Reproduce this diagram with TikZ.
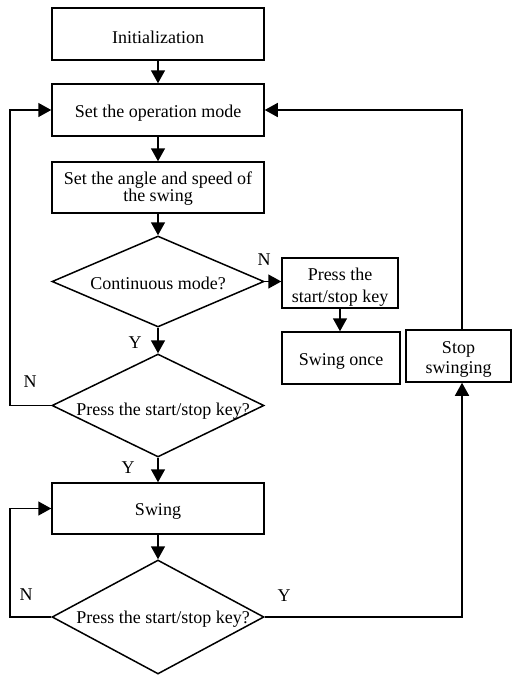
\documentclass[tikz,border=0pt]{standalone}
\usepackage{fontspec}
\setmainfont{Liberation Serif}
\usetikzlibrary{arrows.meta,shapes.geometric}
\newcommand{\lowtxt}[2]{\smash{\raisebox{-#1}{#2}}}
\newcommand{\twolines}[4]{\smash{\raisebox{#1}{\fontsize{18}{#2}\selectfont\begin{tabular}[t]{@{}c@{}}#3\\#4\end{tabular}}}}
\begin{document}
\begin{tikzpicture}[x=1pt,y=-1pt,
  line width=1.5pt,
  >={Triangle[length=13pt,width=14pt]},
  txt/.style={font=\fontsize{18}{17}\selectfont},
  box/.style={draw,rectangle,inner sep=0pt,align=center,txt},
  dia/.style={draw,diamond,inner sep=0pt,minimum width=212pt,txt},
  lab/.style={txt,inner sep=0pt}]
\useasboundingbox (0,0) rectangle (512,675);
\node[box,minimum width=212pt,minimum height=52pt] (init) at (158,34) {\lowtxt{9.5pt}{Initialization}};
\node[box,minimum width=212pt,minimum height=52pt] (mode) at (158,110) {\lowtxt{7pt}{Set the operation mode}};
\node[box,minimum width=212pt,minimum height=51pt] (angle) at (158,187.5) {\twolines{3.5pt}{17}{Set the angle and speed of}{the swing}};
\node[dia,minimum height=91pt] (d1) at (158,281.5) {\makebox[0pt][c]{\lowtxt{7.5pt}{Continuous mode?}}};
\node[box,minimum width=116pt,minimum height=50pt] (press) at (340,283) {\twolines{2.5pt}{21.5}{Press the}{start/stop key}};
\node[box,minimum width=118pt,minimum height=52pt] (once) at (341,358) {\lowtxt{7pt}{Swing once}};
\node[box,minimum width=105pt,minimum height=52pt] (stop) at (458.5,356) {\twolines{3pt}{20}{Stop}{swinging}};
\node[dia,minimum height=103pt] (d2) at (158,405.5) {\makebox[0pt][c]{\hspace{10pt}\lowtxt{9.5pt}{Press the start/stop key?}}};
\node[box,minimum width=212pt,minimum height=51pt] (swing) at (158,508.5) {\lowtxt{7pt}{Swing}};
\node[dia,minimum height=114pt] (d3) at (158,617) {\makebox[0pt][c]{\hspace{10pt}\lowtxt{6pt}{Press the start/stop key?}}};
\coordinate (lx) at (10,0);
\coordinate (rx) at (462,0);
\draw[->] (init) -- (mode);
\draw[->] (mode) -- (angle);
\draw[->] (angle) -- (d1);
\draw[->] (d1.east) -- (press.west |- d1.east);
\draw[->] (press.south -| 340,0) -- (once.north -| 340,0);
\draw[->] (d1) -- (d2);
\draw[->] (d2) -- (swing);
\draw[->] (swing) -- (d3);
\draw[->] (d2.west) -- (lx |- d2.west) |- (mode.west);
\draw[->] (d3.west) -- (lx |- d3.west) |- (swing.west);
\draw[->] (d3.east) -- (rx |- d3.east) -- (rx |- stop.south);
\draw[->] (rx |- stop.north) |- (mode.east);
\node[lab] (n1) at (264,260) {N};
\node[lab] (y1) at (135,343) {Y};
\node[lab] (n2) at (30,382) {N};
\node[lab] (y2) at (128,468) {Y};
\node[lab] (n3) at (26,595) {N};
\node[lab] (y3) at (284,596) {Y};
\end{tikzpicture}
\end{document}
